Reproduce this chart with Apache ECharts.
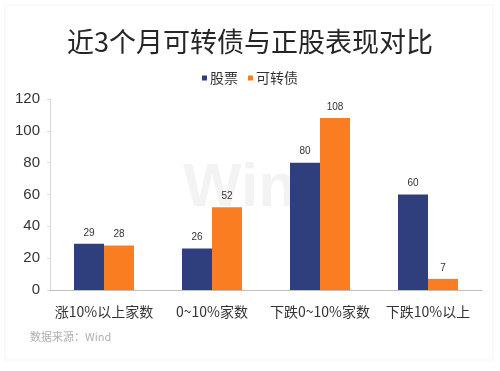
<!DOCTYPE html>
<html><head><meta charset="utf-8">
<script src="https://cdn.jsdelivr.net/npm/echarts@6/dist/echarts.min.js"></script>
<style>html,body{margin:0;padding:0;background:#fff}#c{width:500px;height:371px}</style>
</head><body><div id="c"></div>
<script>
const titleText = '近3个月可转债与正股表现对比';
const categories = ['涨10%以上家数', '0~10%家数', '下跌0~10%家数', '下跌10%以上'];
const stockName = '股票';
const stockValues = [29, 26, 80, 60];
const cbName = '可转债';
const cbValues = [28, 52, 108, 7];
const yTicks = [0, 20, 40, 60, 80, 100, 120];
const sourceText = '数据来源：Wind';

const font = '"Noto Sans CJK SC", "Liberation Sans", sans-serif';
const chart = echarts.init(document.getElementById('c'), null, {renderer: 'canvas'});
chart.setOption({
  backgroundColor: '#fff',
  animation: false,
  title: {
    text: titleText, left: 'center', top: 23,
    textStyle: {fontFamily: font, fontSize: 27, fontWeight: 'normal', color: '#262626'}
  },
  legend: {
    top: 66, left: 'center', itemWidth: 5, itemHeight: 5, itemGap: 10,
    icon: 'rect',
    textStyle: {fontFamily: font, fontSize: 14, color: '#333', padding: [0,0,0,-2]},
    data: [stockName, cbName]
  },
  grid: {left: 50, right: 18, top: 99, bottom: 81, containLabel: false},
  xAxis: {
    type: 'category', data: categories,
    axisLine: {lineStyle: {color: '#bfbfbf'}},
    axisTick: {show: false},
    axisLabel: {fontFamily: font, fontSize: 14, color: '#333', margin: 15, interval: 0}
  },
  yAxis: {
    type: 'value', min: 0, max: 120, interval: 20,
    axisLine: {show: true, lineStyle: {color: '#d9d9d9'}},
    axisTick: {show: true, length: 3, lineStyle: {color: '#d9d9d9'}},
    splitLine: {show: false},
    axisLabel: {fontFamily: '"Liberation Sans", sans-serif', fontSize: 15, color: '#333', margin: 10}
  },
  graphic: [
    {type: 'rect', shape: {x: 5, y: 5, width: 488, height: 355}, style: {fill: 'none', stroke: '#f5f5f5', lineWidth: 1}, z: -1},
    {type: 'text', left: 183, top: 158, style: {text: 'Win.d', fontSize: 62, fontWeight: 'bold', fontFamily: '"Liberation Sans", sans-serif', fill: '#f3f3f3'}, z: -1},
    {type: 'text', left: 30, top: 331, style: {text: sourceText, fontSize: 11, fontFamily: font, fill: '#b0b0b0'}}
  ],
  series: [
    {name: stockName, type: 'bar', data: stockValues, barWidth: 30, barGap: '0%',
     itemStyle: {color: '#2f3f7e'},
     label: {show: true, position: 'top', fontSize: 10, color: '#333', distance: 6}},
    {name: cbName, type: 'bar', data: cbValues, barWidth: 30,
     itemStyle: {color: '#fb7d22'},
     label: {show: true, position: 'top', fontSize: 10, color: '#333', distance: 6}}
  ]
});
</script></body></html>
